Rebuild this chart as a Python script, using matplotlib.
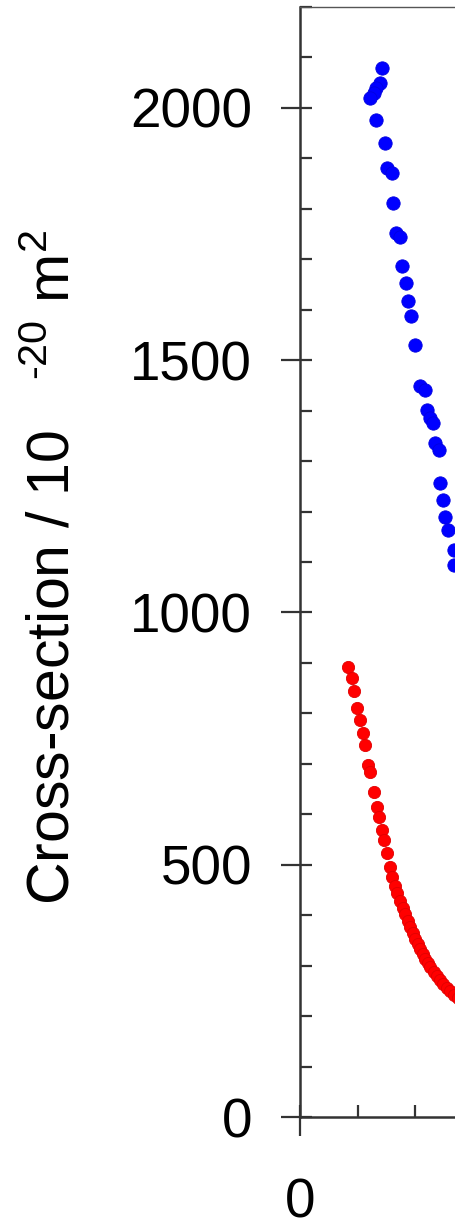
import numpy as np
import matplotlib
matplotlib.use("Agg")
import matplotlib.pyplot as plt
from matplotlib.ticker import MultipleLocator, FixedLocator

# =========================
# DATA
# =========================
blue_x = [1.42, 1.39, 1.33, 1.28, 1.22, 1.32, 1.48, 1.51, 1.60, 1.62,
          1.67, 1.74, 1.77, 1.84, 1.87, 1.93, 2.00, 2.09, 2.17, 2.20,
          2.26, 2.32, 2.35, 2.41, 2.44, 2.49, 2.52, 2.58, 2.67, 2.67]
blue_y = [2079, 2049, 2040, 2030, 2020, 1977, 1930, 1881, 1871, 1811,
          1752, 1744, 1686, 1653, 1618, 1587, 1531, 1448, 1441, 1402,
          1385, 1375, 1336, 1322, 1256, 1223, 1190, 1164, 1124, 1094]

red_x = [0.84, 0.90, 0.94, 0.99, 1.04, 1.10, 1.13, 1.18, 1.22, 1.29,
         1.34, 1.37, 1.43, 1.46, 1.51, 1.57, 1.60, 1.65, 1.69, 1.74,
         1.79, 1.83, 1.88, 1.91, 1.97, 2.00, 2.05, 2.09, 2.14, 2.17,
         2.23, 2.26, 2.33, 2.38, 2.44, 2.49, 2.56, 2.61, 2.68, 2.75]
red_y = [892, 870, 845, 811, 787, 761, 738, 698, 684, 644,
         615, 595, 569, 549, 523, 496, 476, 458, 444, 428,
         414, 402, 389, 377, 365, 353, 343, 333, 323, 313,
         305, 297, 287, 280, 272, 264, 256, 250, 242, 236]

X_TICKS = [0]
Y_LABEL = "Cross-section / 10 $\\ \\ ^{\\mathregular{\u201020}}$ m$^{\\mathregular{2}}$"

# =========================
# STYLE
# =========================
plt.rcParams["font.family"] = ["Liberation Sans", "DejaVu Sans"]
plt.rcParams["mathtext.fontset"] = "custom"
plt.rcParams["mathtext.rm"] = "Liberation Sans"
plt.rcParams["mathtext.it"] = "Liberation Sans"

W, H = 455, 1227
fig = plt.figure(figsize=(W / 100, H / 100), dpi=100)
# the axes runs past the right edge of the picture (cropped figure)
ax = fig.add_axes([300 / W, 110 / H, 575 / W, 1110 / H])

ax.plot(blue_x, blue_y, "o", color="#0000ff", ms=9.6, mec="#0000e0", mew=0.6, zorder=3)
ax.plot(red_x, red_y, "o", color="#ff0000", ms=8.8, mec="#e00000", mew=0.6, zorder=3)

ax.set_xlim(0, 10)
ax.set_ylim(0, 2200)

ax.yaxis.set_major_locator(MultipleLocator(500))
ax.yaxis.set_minor_locator(MultipleLocator(100))
ax.xaxis.set_major_locator(FixedLocator(X_TICKS))
ax.xaxis.set_minor_locator(MultipleLocator(1))
ax.yaxis.remove_overlapping_locs = False
ax.xaxis.remove_overlapping_locs = False

spine_col = "#333333"
for s in ["left", "bottom"]:
    ax.spines[s].set_linewidth(1.8)
    ax.spines[s].set_color(spine_col)
ax.spines["top"].set_linewidth(1.0)
ax.spines["top"].set_color("#555555")
ax.spines["right"].set_visible(False)

ax.tick_params(which="major", direction="out", length=13.5, width=1.6,
               color=spine_col, labelsize=39.5, top=False, right=False)
ax.tick_params(which="minor", direction="in", length=8.6, width=1.6,
               color=spine_col, top=False, right=False)
ax.tick_params(axis="y", which="major", pad=21)
ax.tick_params(axis="x", which="major", pad=30)

ax.set_ylabel(Y_LABEL, fontsize=42.5)
ax.yaxis.set_label_coords(0.82, 6.60, transform=fig.dpi_scale_trans)

fig.savefig("out.png", dpi=100)
